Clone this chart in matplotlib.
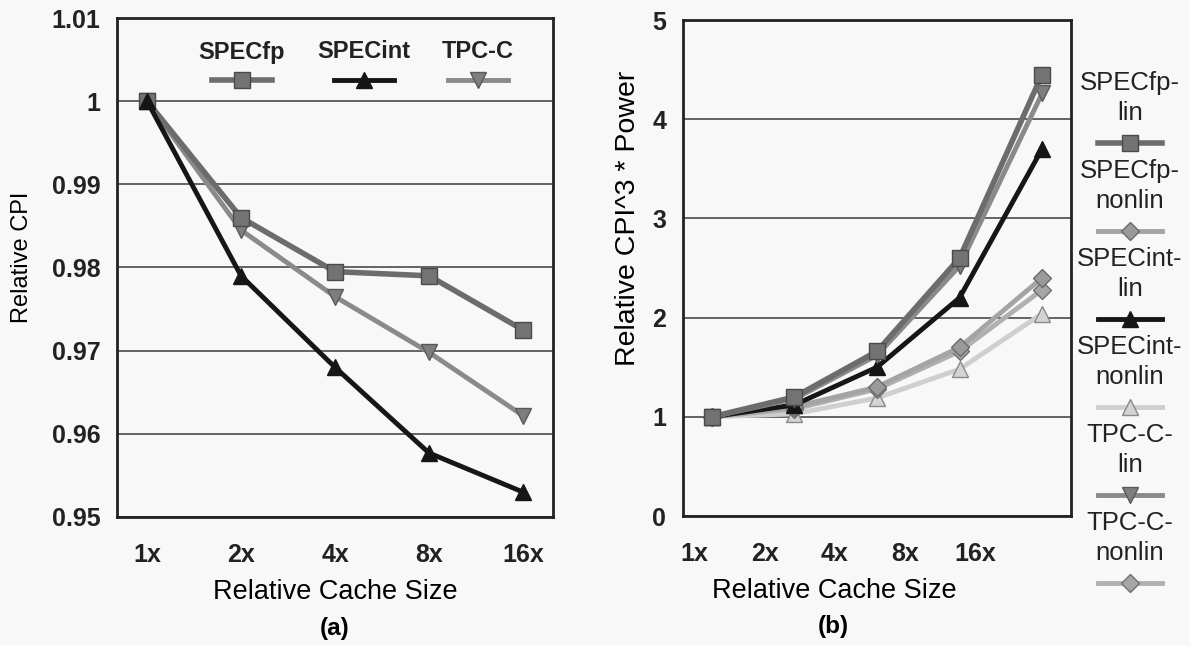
import numpy as np
import matplotlib
matplotlib.use("Agg")
import matplotlib.pyplot as plt

plt.rcParams['font.family'] = ['Liberation Sans', 'DejaVu Sans']

# cache sizes (x axis)
sizes = ['1x', '2x', '4x', '8x', '16x']

# (a) relative CPI
cpi_specfp = [1.0, 0.986, 0.9795, 0.979, 0.9725]
cpi_specint = [1.0, 0.979, 0.968, 0.9577, 0.953]
cpi_tpcc = [1.0, 0.9845, 0.9765, 0.9698, 0.9622]

# (b) relative CPI^3 * power
p_specfp_lin = [1.0, 1.2, 1.66, 2.6, 4.45]
p_specfp_nonlin = [1.0, 1.1, 1.3, 1.7, 2.4]
p_specint_lin = [1.0, 1.12, 1.5, 2.2, 3.7]
p_specint_nonlin = [1.0, 1.03, 1.19, 1.48, 2.04]
p_tpcc_lin = [1.0, 1.18, 1.62, 2.52, 4.26]
p_tpcc_nonlin = [1.0, 1.08, 1.28, 1.66, 2.28]

bg = '#f8f8f8'
fig = plt.figure(figsize=(11.9, 6.46), dpi=100, facecolor=bg)

W, H = 1190.0, 646.0
def px_axes(x0, y0, x1, y1):
    return fig.add_axes([x0 / W, 1 - y1 / H, (x1 - x0) / W, (y1 - y0) / H])

axa = px_axes(117, 18, 553, 517)
axb = px_axes(683, 20, 1071, 516)

# styles: (line color, marker, face, edge, lw, ms)
st_fp = dict(color='#6c6c6c', marker='s', mfc='#737373', mec='#4a4a4a', lw=4, ms=11)
st_int = dict(color='#161616', marker='^', mfc='#161616', mec='#161616', lw=3.5, ms=11)
st_tpc = dict(color='#8a8a8a', marker='v', mfc='#7e7e7e', mec='#5a5a5a', lw=3.5, ms=11)
st_fp_nl = dict(color='#a4a4a4', marker='D', mfc='#9a9a9a', mec='#6a6a6a', lw=3.5, ms=9)
st_int_nl = dict(color='#cfcfcf', marker='^', mfc='#d4d4d4', mec='#8a8a8a', lw=3.5, ms=11)
st_tpc_nl = dict(color='#b0b0b0', marker='D', mfc='#a6a6a6', mec='#707070', lw=3.5, ms=9)

x = np.arange(len(sizes))

# ---- (a)
axa.plot(x, cpi_tpcc, **st_tpc, zorder=3)
axa.plot(x, cpi_specfp, **st_fp, zorder=4)
axa.plot(x, cpi_specint, **st_int, zorder=5)
axa.set_xlim(-0.32, 4.32)
axa.set_ylim(0.95, 1.01)
axa.set_yticks(np.arange(0.95, 1.0101, 0.01))
axa.set_yticklabels(['0.95', '0.96', '0.97', '0.98', '0.99', '1', '1.01'])
axa.set_xticks(x)
axa.set_xticklabels(sizes)
axa.set_ylabel('Relative CPI', fontsize=17)
axa.yaxis.set_label_coords(-0.218, 0.52)
axa.yaxis.label.set_va('center')

# ---- (b)
axb.plot(x, p_specint_nonlin, **st_int_nl, zorder=3)
axb.plot(x, p_tpcc_nonlin, **st_tpc_nl, zorder=3)
axb.plot(x, p_specfp_nonlin, **st_fp_nl, zorder=3)
axb.plot(x, p_specint_lin, **st_int, zorder=4)
axb.plot(x, p_tpcc_lin, **st_tpc, zorder=4)
axb.plot(x, p_specfp_lin, **st_fp, zorder=5)
axb.set_xlim(-0.35, 4.35)
axb.set_ylim(0, 5)
axb.set_yticks(np.arange(0, 6, 1))
# tick labels in the original sit a bit left of the points
axb.set_xticks(-0.21 + 0.85 * x)
axb.set_xticklabels(sizes)
axb.set_ylabel('Relative CPI^3 * Power', fontsize=20.5)
axb.yaxis.set_label_coords(-0.142, 0.60)
axb.yaxis.label.set_va('center')

for ax, xc in ((axa, 0.5), (axb, 0.389)):
    ax.set_facecolor(bg)
    ax.grid(axis='y', color='#4a4a4a', lw=1.2)
    ax.set_axisbelow(True)
    for s in ax.spines.values():
        s.set_linewidth(2)
        s.set_color('#222222')
    ax.tick_params(length=0, labelsize=18, pad=12)
    ax.tick_params(axis='x', pad=19)
    for lab in ax.get_xticklabels() + ax.get_yticklabels():
        lab.set_fontweight('bold')
        lab.set_color('#222222')
    ax.set_xlabel('Relative Cache Size', fontsize=19.5)
    ax.xaxis.label.set_va('center')
    ax.xaxis.set_label_coords(xc, -0.151)

fig.text(335 / W, 1 - 628 / H, '(a)', fontsize=17.5, fontweight='bold', ha='center', va='center')
fig.text(833 / W, 1 - 627 / H, '(b)', fontsize=17.5, fontweight='bold', ha='center', va='center')

# legend overlay in pixel coordinates
lg = fig.add_axes([0, 0, 1, 1], zorder=10)
lg.set_xlim(0, W)
lg.set_ylim(H, 0)
lg.axis('off')

def handle(xc, y, st, half=30):
    lg.plot([xc - half, xc + half], [y, y], color=st['color'], lw=st['lw'])
    lg.plot([xc], [y], marker=st['marker'], mfc=st['mfc'], mec=st['mec'], ms=st['ms'], ls='none')

for name, xc, st in (('SPECfp', 242, st_fp), ('SPECint', 364, st_int), ('TPC-C', 478, st_tpc)):
    lg.text(xc, 52, name, fontsize=17, fontweight='bold', ha='center', va='center', color='#222222')
    handle(xc, 80, st)

right_entries = [('SPECfp-', 'lin', st_fp), ('SPECfp-', 'nonlin', st_fp_nl),
                 ('SPECint-', 'lin', st_int), ('SPECint-', 'nonlin', st_int_nl),
                 ('TPC-C-', 'lin', st_tpc), ('TPC-C-', 'nonlin', st_tpc_nl)]
for i, (l1, l2, st) in enumerate(right_entries):
    y0 = 83 + 88 * i
    lg.text(1130, y0, l1, fontsize=18.5, ha='center', va='center', color='#222222')
    lg.text(1130, y0 + 30, l2, fontsize=18.5, ha='center', va='center', color='#222222')
    handle(1130, y0 + 60, st, half=32)

fig.savefig('out.png', dpi=100, facecolor=bg)
